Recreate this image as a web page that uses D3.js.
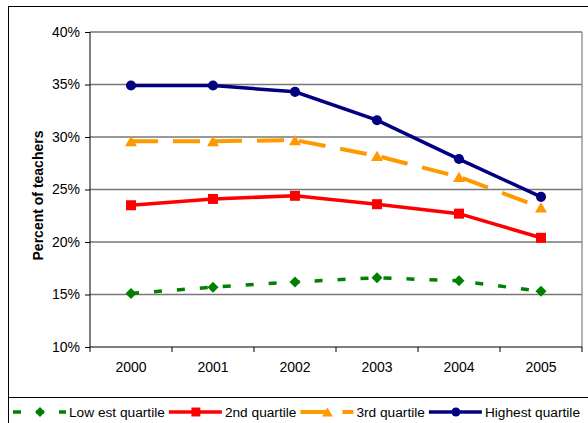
<!DOCTYPE html>
<html>
<head>
<meta charset="utf-8">
<script src="https://cdn.jsdelivr.net/npm/d3@7"></script>
<style>
  body { margin: 0; background: #fff; }
  text { font-family: "Liberation Sans", Arial, sans-serif; }
</style>
</head>
<body>
<div id="chart"></div>
<script>
var years = ["2000", "2001", "2002", "2003", "2004", "2005"];
var lowest = [15.1, 15.7, 16.2, 16.6, 16.3, 15.3];
var second = [23.5, 24.1, 24.4, 23.6, 22.7, 20.4];
var third = [29.6, 29.6, 29.7, 28.2, 26.2, 23.3];
var highest = [34.9, 34.9, 34.3, 31.6, 27.9, 24.3];
var yTicks = [10, 15, 20, 25, 30, 35, 40];
var seriesNames = ["Low est quartile", "2nd quartile", "3rd quartile", "Highest quartile"];

var fontSize = "14px";
var legendFont = "13.7px";

// custom marker shapes (Excel style)
var triangleShape = {
  draw: function(ctx, size) {
    var w = Math.sqrt(size) / 2;
    ctx.moveTo(0, -w * 0.85);
    ctx.lineTo(w, w * 0.85);
    ctx.lineTo(-w, w * 0.85);
    ctx.closePath();
  }
};
var diamondShape = {
  draw: function(ctx, size) {
    var r = Math.sqrt(size) / 2;
    ctx.moveTo(0, -r);
    ctx.lineTo(r, 0);
    ctx.lineTo(0, r);
    ctx.lineTo(-r, 0);
    ctx.closePath();
  }
};

var series = [
  {name: seriesNames[0], values: lowest, color: "#008000", width: 3.5, dash: "8,15", shape: diamondShape, size: 121},
  {name: seriesNames[1], values: second, color: "#ff0000", width: 3.5, dash: null, shape: d3.symbolSquare, size: 100},
  {name: seriesNames[2], values: third, color: "#ff9900", width: 4, dash: "27,15", shape: triangleShape, size: 144},
  {name: seriesNames[3], values: highest, color: "#000080", width: 3.5, dash: null, shape: d3.symbolCircle, size: 80}
];

var W = 588, H = 423;
var plot = {left: 90, right: 582, top: 32, bottom: 347};

var svg = d3.select("#chart").append("svg")
  .attr("width", W)
  .attr("height", H);

// chart frame + legend frame
svg.append("rect")
  .attr("x", 8.5).attr("y", 6.5)
  .attr("width", W + 20).attr("height", H + 20)
  .attr("fill", "none").attr("stroke", "#000").attr("stroke-width", 1);
svg.append("line")
  .attr("x1", 8.5).attr("x2", W + 20)
  .attr("y1", 397.5).attr("y2", 397.5)
  .attr("stroke", "#000");

var xScale = d3.scaleBand()
  .domain(years)
  .range([plot.left, plot.right])
  .padding(0);

var yScale = d3.scaleLinear()
  .domain([10, 40])
  .range([plot.bottom, plot.top]);

var cx = function(d, i) { return xScale(years[i]) + xScale.bandwidth() / 2; };

// gridlines
svg.append("g")
  .selectAll("line")
  .data(yTicks.slice(1))
  .enter()
  .append("line")
  .attr("x1", plot.left).attr("x2", plot.right)
  .attr("y1", function(d) { return yScale(d); })
  .attr("y2", function(d) { return yScale(d); })
  .attr("stroke", "#777")
  .attr("stroke-width", 1.3);

// plot area right border
svg.append("line")
  .attr("x1", plot.right).attr("x2", plot.right)
  .attr("y1", plot.top).attr("y2", plot.bottom)
  .attr("stroke", "#888").attr("stroke-width", 1.3);

// y axis
var yAxis = d3.axisLeft(yScale)
  .tickValues(yTicks)
  .tickSize(5)
  .tickPadding(5)
  .tickFormat(function(d) { return d + "%"; });
var yg = svg.append("g")
  .attr("transform", "translate(" + plot.left + ",0)")
  .call(yAxis);
yg.select(".domain").remove();
yg.selectAll("line").attr("stroke", "#000");
yg.selectAll("text").attr("font-size", fontSize).attr("fill", "#000")
  .style("font-family", '"Liberation Sans", Arial, sans-serif');
yg.append("line")
  .attr("x1", 0).attr("x2", 0)
  .attr("y1", plot.top).attr("y2", plot.bottom)
  .attr("stroke", "#000");

// x axis: labels at centers, ticks at category boundaries
var xAxis = d3.axisBottom(xScale)
  .tickSize(0)
  .tickPadding(15);
var xg = svg.append("g")
  .attr("transform", "translate(0," + plot.bottom + ")")
  .call(xAxis);
xg.select(".domain").remove();
xg.selectAll("text").attr("font-size", fontSize).attr("fill", "#000")
  .style("font-family", '"Liberation Sans", Arial, sans-serif');
xg.append("line")
  .attr("x1", plot.left).attr("x2", plot.right)
  .attr("y1", 0).attr("y2", 0)
  .attr("stroke", "#000");
xg.selectAll(".bound")
  .data(years.concat(["end"]))
  .enter()
  .append("line")
  .attr("class", "bound")
  .attr("x1", function(d) { return d === "end" ? plot.right : xScale(d); })
  .attr("x2", function(d) { return d === "end" ? plot.right : xScale(d); })
  .attr("y1", 0).attr("y2", 5)
  .attr("stroke", "#000");

// y axis title
svg.append("text")
  .attr("transform", "translate(43," + ((plot.top + plot.bottom) / 2 + 6) + ") rotate(-90)")
  .attr("text-anchor", "middle")
  .attr("font-size", fontSize)
  .attr("font-weight", "bold")
  .text("Percent of teachers");

// lines
var line = d3.line()
  .x(cx)
  .y(function(d) { return yScale(d); });

series.forEach(function(s) {
  svg.append("path")
    .datum(s.values)
    .attr("fill", "none")
    .attr("stroke", s.color)
    .attr("stroke-width", s.width)
    .attr("stroke-dasharray", s.dash)
    .attr("d", line);

  svg.selectAll(null)
    .data(s.values)
    .enter()
    .append("path")
    .attr("transform", function(d, i) { return "translate(" + cx(d, i) + "," + yScale(d) + ")"; })
    .attr("d", d3.symbol().type(s.shape).size(s.size))
    .attr("fill", s.color);
});

// legend
var lx = 13, ly = 412;
series.forEach(function(s) {
  var g = svg.append("g").attr("transform", "translate(" + lx + "," + ly + ")");
  g.append("line")
    .attr("x1", 0).attr("x2", 53)
    .attr("y1", 0).attr("y2", 0)
    .attr("stroke", s.color)
    .attr("stroke-width", s.width)
    .attr("stroke-dasharray", s.dash);
  g.append("path")
    .attr("transform", "translate(27,0)")
    .attr("d", d3.symbol().type(s.shape).size(s.size * 0.8))
    .attr("fill", s.color);
  var t = g.append("text")
    .attr("x", 56)
    .attr("y", 5)
    .attr("font-size", legendFont)
    .text(s.name);
  lx += 56 + t.node().getComputedTextLength() + 4;
});
</script>
</body>
</html>
